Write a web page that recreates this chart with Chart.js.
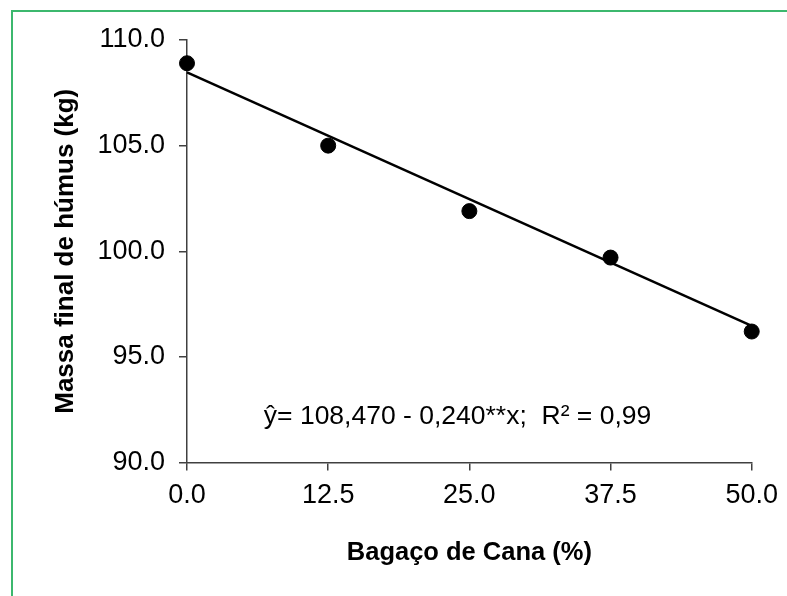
<!DOCTYPE html>
<html>
<head>
<meta charset="utf-8">
<script src="https://cdn.jsdelivr.net/npm/chart.js@4.4.0/dist/chart.umd.min.js"></script>
<style>
  html, body { margin: 0; padding: 0; background: #fff; }
  #wrap { position: relative; width: 787px; height: 596px; }
  #frame {
    position: absolute; left: 11px; top: 10px; right: 0; bottom: 0;
    border-top: 2px solid #3cb86e; border-left: 2px solid #3cb86e;
  }
  canvas { position: absolute; left: 0; top: 0; }
</style>
</head>
<body>
<div id="wrap">
  <div id="frame"></div>
  <canvas id="chart" width="787" height="596"></canvas>
</div>
<script>
// data
const bagaco = [0, 12.5, 25, 37.5, 50];
const massaHumus = [108.9, 105.0, 101.9, 99.7, 96.2];
// fitted line ends: y = 108.470 - 0.240x
const trendX = [0, 50];
const trendY = [108.47, 96.47];
const xTicks = [0, 12.5, 25, 37.5, 50];
const yTicks = [90, 95, 100, 105, 110];
const equation = "ŷ= 108,470 - 0,240**x;  R² = 0,99";

const axisColor = "#404040";
const fontFamily = "'Liberation Sans', Arial, sans-serif";

// equation text inside the plot
const equationLabel = {
  id: "equationLabel",
  afterDraw(chart) {
    const { ctx, scales } = chart;
    ctx.save();
    ctx.font = "26.5px " + fontFamily;
    ctx.fillStyle = "#000";
    ctx.textAlign = "left";
    ctx.textBaseline = "middle";
    ctx.fillText(equation, scales.x.getPixelForValue(6.8), scales.y.getPixelForValue(92.15));
    ctx.restore();
  },
};

new Chart(document.getElementById("chart"), {
  type: "scatter",
  data: {
    datasets: [
      {
        label: "Ajuste",
        type: "line",
        data: trendX.map((x, i) => ({ x: x, y: trendY[i] })),
        borderColor: "#000",
        borderWidth: 2.5,
        pointRadius: 0,
        fill: false,
        clip: false,
        order: 2,
      },
      {
        label: "Massa final",
        data: bagaco.map((x, i) => ({ x: x, y: massaHumus[i] })),
        backgroundColor: "#000",
        borderColor: "#000",
        pointRadius: 7.5,
        pointHoverRadius: 7.5,
        clip: false,
        order: 1,
      },
    ],
  },
  options: {
    responsive: false,
    animation: false,
    events: [],
    layout: { padding: { top: 40, right: 33, left: 0, bottom: 0 } },
    plugins: {
      legend: { display: false },
      tooltip: { enabled: false },
    },
    scales: {
      x: {
        type: "linear",
        min: 0,
        max: 50,
        afterBuildTicks: (axis) => { axis.ticks = xTicks.map((v) => ({ value: v })); },
        afterFit: (axis) => { axis.height = 133.5; },
        border: { color: axisColor, width: 1.5 },
        grid: { drawOnChartArea: false, color: axisColor, lineWidth: 1.5, tickLength: 8 },
        ticks: {
          color: "#000",
          padding: 9,
          font: { family: fontFamily, size: 27 },
          callback: (v) => Number(v).toFixed(1),
        },
        title: {
          display: true,
          text: "Bagaço de Cana (%)",
          color: "#000",
          font: { family: fontFamily, size: 25.5, weight: "bold" },
          padding: { top: 0, bottom: 28 },
        },
      },
      y: {
        type: "linear",
        min: 90,
        max: 110,
        afterBuildTicks: (axis) => { axis.ticks = yTicks.map((v) => ({ value: v })); },
        afterFit: (axis) => { axis.width = 187; },
        border: { color: axisColor, width: 1.5 },
        grid: { drawOnChartArea: false, color: axisColor, lineWidth: 1.5, tickLength: 8 },
        ticks: {
          color: "#000",
          padding: 14,
          font: { family: fontFamily, size: 27 },
          callback: (v) => Number(v).toFixed(1),
        },
        title: {
          display: true,
          text: "Massa final de húmus (kg)",
          color: "#000",
          font: { family: fontFamily, size: 26, weight: "bold" },
          padding: { top: 50, bottom: 0 },
        },
      },
    },
  },
  plugins: [equationLabel],
});
</script>
</body>
</html>
